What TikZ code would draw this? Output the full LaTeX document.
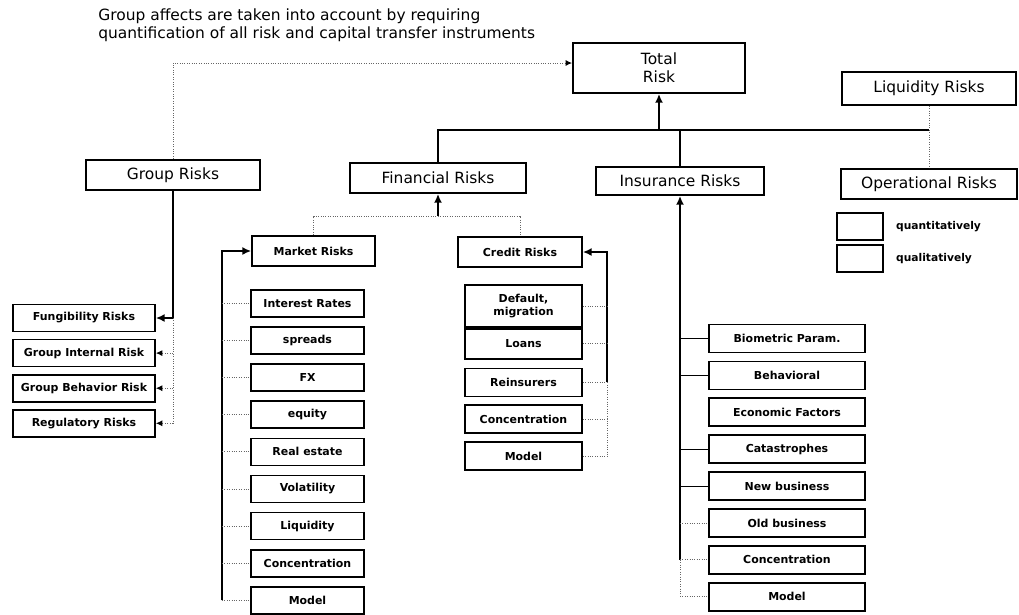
\documentclass[tikz,border=0pt]{standalone}
\usepackage{fontspec}
\setmainfont{DejaVu Sans}
\usetikzlibrary{arrows.meta,positioning}

\begin{document}
\begin{tikzpicture}[x=0.025cm,y=-0.025cm,
    node distance=0.21cm,
    head/.style={draw=black,line width=1.3pt,align=center,inner sep=1pt,
      font=\fontsize{11}{13}\selectfont},
    leaf/.style={draw=black,line width=1.2pt,align=center,inner sep=1pt,
      font=\fontsize{7.8}{9.5}\selectfont\bfseries,minimum height=0.675cm},
    mleaf/.style={leaf,minimum width=2.825cm},
    cleaf/.style={leaf,minimum width=2.925cm,minimum height=0.7cm},
    ileaf/.style={leaf,minimum width=3.9cm,minimum height=0.7cm},
    gleaf/.style={leaf,minimum width=3.55cm},
    legbox/.style={draw=black,line width=1.2pt,minimum width=1.15cm,minimum height=0.675cm},
    flow/.style={-{Latex[length=2.2mm,width=2mm]},draw=black,line width=1.2pt},
    tie/.style={draw=black,line width=0.8pt},
    dots/.style={draw=black!60,line width=0.7pt,densely dotted},
    dotflow/.style={dots,-{Latex[length=1.6mm,width=1.5mm,color=black]}},
    note/.style={font=\fontsize{7.6}{9}\selectfont\bfseries,inner sep=0pt}
  ]
  \useasboundingbox (0,0) rectangle (1019,614);

  % top level
  \node[anchor=north west,align=left,inner sep=0pt,font=\fontsize{11}{12.8}\selectfont] (title) at (98,8)
    {Group affects are taken into account by requiring\\quantification of all risk and capital transfer instruments};
  \node[head,minimum width=4.3cm,minimum height=1.25cm] (total) at (659,68) {Total\\Risk};
  \node[head,minimum width=4.35cm,minimum height=0.825cm] (liquid) at (929,88.5) {Liquidity Risks};
  \node[head,minimum width=4.4cm,minimum height=0.75cm] (oper) at (929,184) {Operational Risks};
  \node[head,minimum width=4.2cm,minimum height=0.7cm] (insur) at (680,181) {Insurance Risks};
  \node[head,minimum width=4.4cm,minimum height=0.75cm] (fin) at (438,178) {Financial Risks};
  \node[head,minimum width=4.35cm,minimum height=0.75cm] (group) at (173,175) {Group Risks};

  % legend
  \node[legbox] (legq) at (860,226.5) {};
  \node[legbox,below=0.08cm of legq] (legl) {};
  \node[note,right=0.3cm of legq] (legqt) {quantitatively};
  \node[note,right=0.3cm of legl] (leglt) {qualitatively};

  % financial risks
  \node[leaf,minimum width=3.075cm,minimum height=0.75cm] (market) at (313.5,251) {Market Risks};
  \node[leaf,minimum width=3.1cm,minimum height=0.75cm] (credit) at (520,252) {Credit Risks};

  \node[mleaf] (mrate) at (307.5,303.5) {Interest Rates};
  \node[mleaf,below=of mrate] (mspread) {spreads};
  \node[mleaf,below=of mspread] (mfx) {FX};
  \node[mleaf,below=of mfx] (mequity) {equity};
  \node[mleaf,below=of mequity] (mestate) {Real estate};
  \node[mleaf,below=of mestate] (mvol) {Volatility};
  \node[mleaf,below=of mvol] (mliq) {Liquidity};
  \node[mleaf,below=of mliq] (mconc) {Concentration};
  \node[mleaf,below=of mconc] (mmodel) {Model};

  \node[cleaf,minimum height=1.05cm] (cdefault) at (523.5,306) {Default,\\migration};
  \node[cleaf,minimum height=0.75cm,below=0pt of cdefault] (cloans) {Loans};
  \node[cleaf,below=0.2cm of cloans] (creins) {Reinsurers};
  \node[cleaf,below=0.18cm of creins] (cconc) {Concentration};
  \node[cleaf,below=0.18cm of cconc] (cmodel) {Model};

  % insurance risks
  \node[ileaf] (ibio) at (787,338.5) {Biometric Param.};
  \node[ileaf,below=0.18cm of ibio] (ibehav) {Behavioral};
  \node[ileaf,below=0.18cm of ibehav] (iecon) {Economic Factors};
  \node[ileaf,below=0.18cm of iecon] (icat) {Catastrophes};
  \node[ileaf,below=0.18cm of icat] (inew) {New business};
  \node[ileaf,below=0.18cm of inew] (iold) {Old business};
  \node[ileaf,below=0.18cm of iold] (iconc) {Concentration};
  \node[ileaf,below=0.18cm of iconc] (imodel) {Model};

  % group risks
  \node[gleaf] (gfung) at (84,318) {Fungibility Risks};
  \node[gleaf,below=0.16cm of gfung] (gint) {Group Internal Risk};
  \node[gleaf,below=0.16cm of gint] (gbehav) {Group Behavior Risk};
  \node[gleaf,below=0.16cm of gbehav] (greg) {Regulatory Risks};

  % links to total risk
  \coordinate (hub) at (659,130);
  \draw[flow] (hub) -- (total.south);
  \draw[tie] (fin.north) |- (liquid.south |- hub);
  \draw[tie] (insur.north) -- (insur.north |- hub);
  \draw[dots] (liquid.south) -- (oper.north);
  \draw[dotflow] (group.north) |- ([yshift=0.125cm]total.west);

  % financial branch
  \coordinate (fhub) at (438,216);
  \draw[flow] (fhub) -- (fin.south);
  \draw[dots] (market.north) |- (fhub) -| (credit.north);

  \coordinate (mrail) at (222,0);
  \draw[flow] (mmodel.west -| mrail) |- (market.west);
  \draw[dots] (mrate.west -| mrail) -- (mrate.west) (mspread.west -| mrail) -- (mspread.west)
    (mfx.west -| mrail) -- (mfx.west) (mequity.west -| mrail) -- (mequity.west)
    (mestate.west -| mrail) -- (mestate.west) (mvol.west -| mrail) -- (mvol.west)
    (mliq.west -| mrail) -- (mliq.west) (mconc.west -| mrail) -- (mconc.west)
    (mmodel.west -| mrail) -- (mmodel.west);

  \coordinate (crail) at (607,0);
  \draw[flow] (creins.east -| crail) |- (credit.east);
  \draw[dots] (creins.east -| crail) -- (cmodel.east -| crail);
  \draw[dots] (cdefault.east) -- (cdefault.east -| crail) (cloans.east) -- (cloans.east -| crail)
    (creins.east) -- (creins.east -| crail) (cconc.east) -- (cconc.east -| crail)
    (cmodel.east) -- (cmodel.east -| crail);

  % insurance branch
  \draw[flow] (iconc.west -| insur.south) -- (insur.south);
  \draw[dots] (iconc.west -| insur.south) -- (imodel.west -| insur.south);
  \draw[tie] (ibio.west -| insur.south) -- (ibio.west) (ibehav.west -| insur.south) -- (ibehav.west)
    (icat.west -| insur.south) -- (icat.west) (inew.west -| insur.south) -- (inew.west);
  \draw[dots] (iold.west -| insur.south) -- (iold.west) (iconc.west -| insur.south) -- (iconc.west)
    (imodel.west -| insur.south) -- (imodel.west);

  % group branch
  \draw[line width=1.2pt] (group.south) -- (gfung.east -| group.south);
  \draw[dots] (gfung.east -| group.south) -- (greg.east -| group.south);
  \draw[flow] (gfung.east -| group.south) -- (gfung.east);
  \draw[dotflow] (gint.east -| group.south) -- (gint.east);
  \draw[dotflow] (gbehav.east -| group.south) -- (gbehav.east);
  \draw[dotflow] (greg.east -| group.south) -- (greg.east);
\end{tikzpicture}
\end{document}
